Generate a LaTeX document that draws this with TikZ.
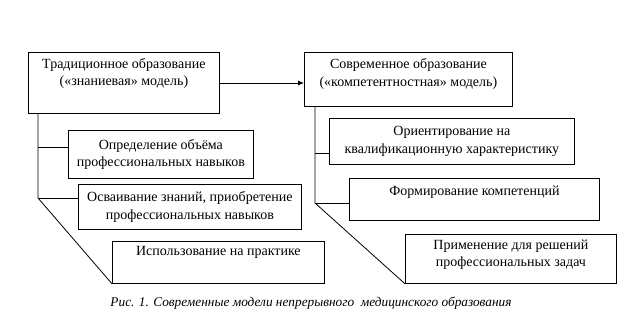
\documentclass[tikz,border=0pt]{standalone}
\usepackage{fontspec}
\setmainfont{Liberation Serif}
\usetikzlibrary{arrows.meta,positioning}
\begin{document}
\begin{tikzpicture}[
    x=1pt, y=-1pt,
    box/.style={rectangle, draw, line width=0.8pt, anchor=north west, inner sep=0pt, align=center,
                font=\fontsize{14}{17.5}\selectfont},
    link/.style={line width=0.8pt},
    arrow/.style={-{Latex[length=6pt,width=5pt]}, line width=0.8pt}
]
\useasboundingbox (0,0) rectangle (643,328);
% Main models
\node[box, minimum width=191, minimum height=61, text depth=22pt] (trad) at (28,52)
    {Традиционное образование\\(«знаниевая» модель)};
\node[box, minimum width=208, minimum height=54, text depth=14pt] (modern) at (304,52)
    {Современное образование\\(«компетентностная» модель)};

% Left branch
\node[box, minimum width=185, minimum height=48] (volume) at (68,130)
    {Определение объёма\\профессиональных навыков};
\node[box, minimum width=223, minimum height=45] (mastering) at (78,184)
    {Осваивание знаний, приобретение\\профессиональных навыков};
\node[box, minimum width=212, minimum height=42, text depth=22pt] (practice) at (112,241)
    {Использование на практике};

% Right branch
\node[box, minimum width=245, minimum height=46] (orient) at (329,118)
    {Ориентирование на\\квалификационную характеристику};
\node[box, minimum width=250, minimum height=42, text depth=18pt] (forming) at (349,178)
    {Формирование компетенций};
\node[box, minimum width=211, minimum height=49, text depth=11pt] (applying) at (405,234)
    {Применение для решений\\профессиональных задач};

% Caption
\node[anchor=base, font=\fontsize{13.3}{15}\selectfont\itshape] (caption) at (311,307)
    {Рис. 1. Современные модели непрерывного\ \ медицинского образования};

% Connectors
\coordinate (tradfork) at (38,198);
\coordinate (modernfork) at (315,203);
\draw[arrow] (trad.east |- 0,83) -- (modern.west |- 0,83);
\draw[link] (trad.south -| tradfork) -- (tradfork) -- (practice.south west);
\draw[link] (tradfork |- 0,147) -- (volume.west |- 0,147);
\draw[link] (tradfork) -- (tradfork -| mastering.west);
\draw[link] (modern.south -| modernfork) -- (modernfork) -- (applying.south west);
\draw[link] (modernfork |- 0,153) -- (orient.west |- 0,153);
\draw[link] (modernfork) -- (modernfork -| forming.west);
\end{tikzpicture}
\end{document}
